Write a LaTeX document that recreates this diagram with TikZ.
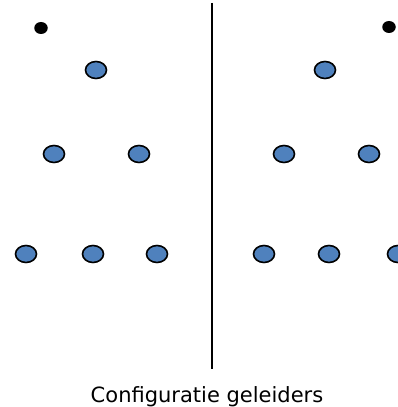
\documentclass[tikz,border=0pt]{standalone}
\usepackage{fontspec}
\setmainfont{DejaVu Sans}
\usetikzlibrary{shapes.geometric}
\definecolor{condblue}{RGB}{79,129,189}
\begin{document}
\begin{tikzpicture}[x=1pt,y=1pt,
  cond/.style={ellipse,draw=black,line width=1.6pt,fill=condblue,minimum width=21pt,minimum height=17pt,inner sep=0pt},
  dot/.style={ellipse,fill=black,minimum width=13.5pt,minimum height=12pt,inner sep=0pt}]
\useasboundingbox (0,0) rectangle (397,407);
% left configuration
\node[dot] (ld) at (41,379) {};
\node[cond] (l1) at (96,337) {};
\node[cond] (l2) at (54,253) {};
\node[cond] (l3) at (139,253) {};
\node[cond] (l4) at (26,153) {};
\node[cond] (l5) at (93,153) {};
\node[cond] (l6) at (157,153) {};
% right configuration
\node[dot] (rd) at (389,380) {};
\node[cond] (r1) at (325,337) {};
\node[cond] (r2) at (284,253) {};
\node[cond] (r3) at (369,253) {};
\node[cond] (r4) at (264,153) {};
\node[cond] (r5) at (329,153) {};
\node[cond] (r6) at (398,153) {};
% separator
\coordinate (st) at (212,404);
\coordinate (sb) at (212,38);
\draw[line width=1.8pt] (st) -- (sb);
\node[font=\fontsize{21}{25}\selectfont,inner sep=0pt] (cap) at (207,10.5) {Configuratie geleiders};
\end{tikzpicture}
\end{document}
